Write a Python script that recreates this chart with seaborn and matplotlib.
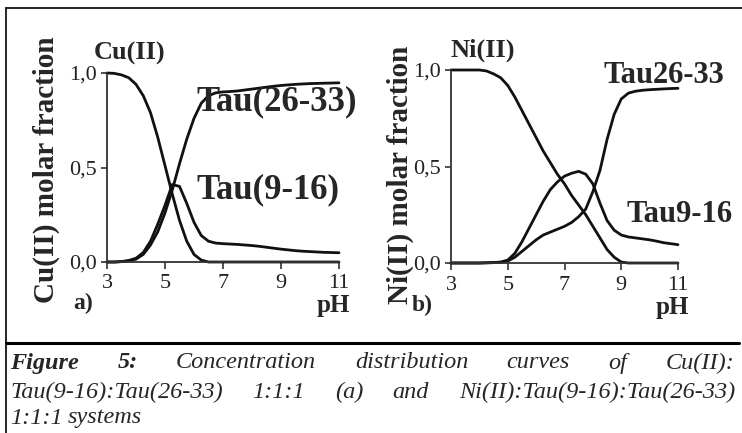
import pandas as pd
import seaborn as sns
import matplotlib.pyplot as plt
from matplotlib.lines import Line2D

# pH grid and molar fractions
ph = [3.0, 3.25, 3.5, 3.75, 4.0, 4.25, 4.5, 4.75, 5.0, 5.25, 5.5, 5.75, 6.0, 6.25, 6.5,
      6.75, 7.0, 7.25, 7.5, 7.75, 8.0, 8.25, 8.5, 8.75, 9.0, 9.25, 9.5, 9.75, 10.0,
      10.25, 10.5, 10.75, 11.0]

cu_free = [1.0, 0.998, 0.99, 0.975, 0.94, 0.88, 0.79, 0.66, 0.51, 0.36, 0.22, 0.11, 0.04,
           0.01, 0.0, 0.0, 0.0, 0.0, 0.0, 0.0, 0.0, 0.0, 0.0, 0.0, 0.0, 0.0, 0.0, 0.0,
           0.0, 0.0, 0.0, 0.0, 0.0]
cu_tau916 = [0.0, 0.0, 0.002, 0.008, 0.02, 0.05, 0.11, 0.20, 0.30, 0.41, 0.40, 0.31, 0.21,
             0.14, 0.11, 0.10, 0.097, 0.095, 0.093, 0.09, 0.087, 0.083, 0.078, 0.073,
             0.068, 0.064, 0.06, 0.057, 0.055, 0.053, 0.051, 0.05, 0.049]
cu_tau2633 = [0.0, 0.0, 0.002, 0.006, 0.015, 0.04, 0.09, 0.16, 0.26, 0.38, 0.52, 0.65,
              0.76, 0.84, 0.88, 0.895, 0.90, 0.902, 0.905, 0.91, 0.915, 0.92, 0.925, 0.93,
              0.934, 0.937, 0.94, 0.942, 0.944, 0.945, 0.946, 0.947, 0.948]

ni_free = [1.0, 1.0, 1.0, 1.0, 1.0, 0.995, 0.98, 0.96, 0.92, 0.86, 0.79, 0.72, 0.65, 0.58,
           0.52, 0.46, 0.41, 0.35, 0.30, 0.25, 0.19, 0.13, 0.07, 0.03, 0.005, 0.0, 0.0,
           0.0, 0.0, 0.0, 0.0, 0.0, 0.0]
ni_tau916 = [0.0, 0.0, 0.0, 0.0, 0.0, 0.001, 0.002, 0.005, 0.015, 0.05, 0.11, 0.18, 0.25,
             0.32, 0.38, 0.42, 0.45, 0.465, 0.475, 0.46, 0.41, 0.31, 0.22, 0.17, 0.145,
             0.135, 0.13, 0.125, 0.12, 0.113, 0.105, 0.10, 0.095]
ni_tau2633 = [0.0, 0.0, 0.0, 0.0, 0.0, 0.001, 0.002, 0.003, 0.01, 0.03, 0.06, 0.09, 0.12,
              0.145, 0.16, 0.175, 0.19, 0.21, 0.24, 0.28, 0.37, 0.48, 0.64, 0.77, 0.85,
              0.88, 0.89, 0.895, 0.898, 0.90, 0.902, 0.904, 0.905]

x_ticks = [3, 5, 7, 9, 11]
y_ticks = [0.0, 0.5, 1.0]
y_ticklabels = ['0,0', '0,5', '1,0']

W, H = 742, 433

sns.set_theme(style="ticks")
plt.rcParams['font.family'] = ['Liberation Serif', 'DejaVu Serif']

fig = plt.figure(figsize=(W / 100, H / 100), dpi=100)
fig.patch.set_facecolor('white')


def long_df(series):
    rows = []
    for name, vals in series.items():
        for p, v in zip(ph, vals):
            rows.append({'pH': p, 'fraction': v, 'species': name})
    return pd.DataFrame(rows)


def panel(rect, series, metal, lab1, lab2, lab_pos, letter, letter_x, ylab_y):
    ax = fig.add_axes(rect)
    df = long_df(series)
    sns.lineplot(data=df, x='pH', y='fraction', units='species', estimator=None,
                 color='#111111', lw=2.0, ax=ax, legend=False)
    for ln in ax.lines:
        ln.set_clip_on(False)
    ax.set_xlim(3, 11)
    ax.set_ylim(0, 1)
    ax.set_xticks(x_ticks)
    ax.set_yticks(y_ticks)
    ax.set_yticklabels(y_ticklabels)
    ax.tick_params(axis='both', labelsize=16, color='#333333', width=1.2,
                   labelcolor='#222222')
    ax.tick_params(axis='x', length=5, pad=4)
    ax.tick_params(axis='y', length=4, pad=3)
    sns.despine(ax=ax)
    for s in ('left', 'bottom'):
        ax.spines[s].set_color('#333333')
        ax.spines[s].set_linewidth(1.3)
    ax.set_xlabel('')
    ax.set_ylabel(metal + ' molar fraction', fontsize=21, fontweight='bold', va='center')
    ax.yaxis.set_label_coords(ylab_y[0], ylab_y[1])
    ax.set_facecolor('white')

    ax.text(lab_pos[0][0], lab_pos[0][1], metal, fontsize=19, fontweight='bold',
            ha='left', va='baseline', clip_on=False)
    ax.text(lab_pos[1][0], lab_pos[1][1], lab1, fontsize=lab_pos[3], fontweight='bold',
            ha='left', va='center', clip_on=False)
    ax.text(lab_pos[2][0], lab_pos[2][1], lab2, fontsize=lab_pos[3], fontweight='bold',
            ha='left', va='center', clip_on=False)
    ax.text(letter_x, -0.22, letter, fontsize=17, fontweight='bold',
            ha='center', va='center', clip_on=False)
    ax.text(10.8, -0.23, 'pH', fontsize=18, fontweight='bold',
            ha='center', va='center', clip_on=False)
    return ax


panel([107 / W, 1 - 262 / H, 232 / W, 189 / H],
      {'Cu(II)': cu_free, 'Tau(9-16)': cu_tau916, 'Tau(26-33)': cu_tau2633},
      'Cu(II)', 'Tau(26-33)', 'Tau(9-16)',
      [(2.55, 1.07), (6.07, 0.85), (6.07, 0.38), 25],
      'a)', 2.17, (-0.262, 0.49))

panel([451 / W, 1 - 263 / H, 227 / W, 193 / H],
      {'Ni(II)': ni_free, 'Tau9-16': ni_tau916, 'Tau26-33': ni_tau2633},
      'Ni(II)', 'Tau26-33', 'Tau9-16',
      [(2.99, 1.07), (8.39, 0.97), (9.2, 0.25), 22],
      'b)', 1.98, (-0.225, 0.455))


def hline(y, x0, x1, lw):
    fig.add_artist(Line2D([x0 / W, x1 / W], [1 - y / H, 1 - y / H],
                          transform=fig.transFigure, color='black', lw=lw))


# frame around the figure and caption separator
hline(8, 6, W, 1.2)
fig.add_artist(Line2D([6 / W, 6 / W], [1 - 8 / H, 0], transform=fig.transFigure,
                      color='black', lw=1.2))
hline(343, 6, 739, 2.2)

# justified caption
renderer = fig.canvas.get_renderer()


def caption_line(words, y, left, right, justify=True):
    texts = []
    for w, bold in words:
        t = fig.text(0, 1 - y / H, w, fontsize=17.5, style='italic',
                     fontweight='bold' if bold else 'normal', va='center', ha='left')
        texts.append(t)
    widths = [t.get_window_extent(renderer).width for t in texts]
    if justify:
        gap = (right - left - sum(widths)) / (len(texts) - 1)
    else:
        gap = 5
    x = left
    for t, w in zip(texts, widths):
        t.set_x(x / W)
        x += w + gap


caption_line([('Figure', True), ('5:', True), ('Concentration', False),
              ('distribution', False), ('curves', False), ('of', False),
              ('Cu(II):', False)], 363, 10, 735)
caption_line([('Tau(9-16):Tau(26-33)', False), ('1:1:1', False), ('(a)', False),
              ('and', False), ('Ni(II):Tau(9-16):Tau(26-33)', False)], 392, 10, 735)
caption_line([('1:1:1', False), ('systems', False)], 418, 10, 735, justify=False)

fig.savefig('out.png', dpi=100, facecolor='white')
